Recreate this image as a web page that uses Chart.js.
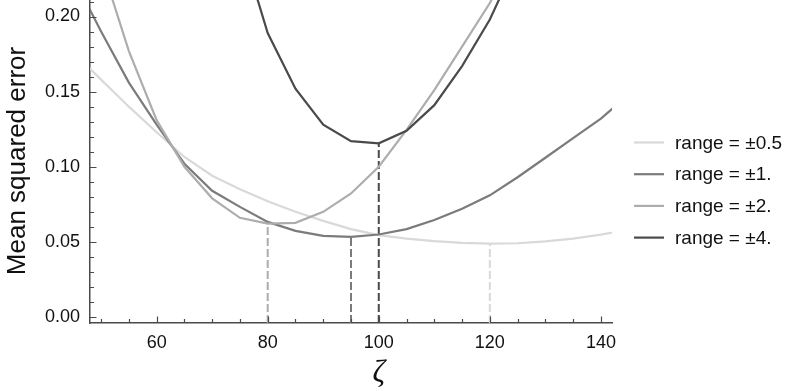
<!DOCTYPE html>
<html>
<head>
<meta charset="utf-8">
<script src="https://cdn.jsdelivr.net/npm/chart.js@4"></script>
<style>
  html, body { margin: 0; padding: 0; background: #ffffff; }
  #wrap { width: 786px; height: 391px; }
</style>
</head>
<body>
<div id="wrap"><canvas id="c" width="786" height="391"></canvas></div>
<script>
// ---------------- data ----------------
const zeta = [45, 50, 55, 60, 65, 70, 75, 80, 85, 90, 95, 100, 105, 110, 115, 120, 125, 130, 135, 140, 145];

const seriesLabels = ["range = \u00b10.5", "range = \u00b11.", "range = \u00b12.", "range = \u00b14."];
const seriesColors = ["#d9d9d9", "#7b7b7b", "#adadad", "#4a4a4a"];

const mseRange05 = [0.176, 0.158, 0.140, 0.123, 0.1065, 0.094, 0.085, 0.077, 0.070, 0.064, 0.0585, 0.0545, 0.0522, 0.0505, 0.0493, 0.0488, 0.0491, 0.0503, 0.0522, 0.0548, 0.058];
const mseRange1  = [0.226, 0.190, 0.156, 0.128, 0.102, 0.084, 0.0733, 0.0633, 0.0573, 0.054, 0.0533, 0.0549, 0.0585, 0.0645, 0.072, 0.081, 0.093, 0.106, 0.119, 0.132, 0.148];
const mseRange2  = [null, 0.235, 0.177, 0.131, 0.100, 0.079, 0.066, 0.0622, 0.0627, 0.070, 0.0822, 0.100, 0.1245, 0.151, 0.180, 0.209, 0.245, null, null, null, null];
const mseRange4  = [null, null, null, null, null, null, 0.250, 0.189, 0.152, 0.128, 0.117, 0.1156, 0.124, 0.141, 0.167, 0.198, 0.238, null, null, null, null];

const seriesValues = [mseRange05, mseRange1, mseRange2, mseRange4];

const xTicks = [60, 80, 100, 120, 140];
const yTicks = [0.00, 0.05, 0.10, 0.15, 0.20];
const xMinorStep = 5;
const yMinorStep = 0.01;
const xMin = 48, xMax = 142;
const yMin = -0.004, yMax = 0.211;

const xTitle = "\u03b6";
const yTitle = "Mean squared error";

// ---------------- helpers ----------------
const AXIS_COLOR = "#4a4a4a";
const TEXT_COLOR = "#111111";
const FONT = "'Liberation Sans', Arial, Helvetica, sans-serif";

function argminIndex(arr) {
  let best = -1;
  for (let i = 0; i < arr.length; i++) {
    if (arr[i] === null) continue;
    if (best < 0 || arr[i] < arr[best]) best = i;
  }
  return best;
}

const datasets = [];
// minima dashed markers (from data)
seriesValues.forEach((vals, s) => {
  const k = argminIndex(vals);
  datasets.push({
    label: "min " + seriesLabels[s],
    data: [{ x: zeta[k], y: yMin }, { x: zeta[k], y: vals[k] }],
    borderColor: seriesColors[s],
    borderWidth: 2,
    borderDash: [8, 3],
    pointRadius: 0,
    fill: false,
    tension: 0,
    order: 10
  });
});
// curves
seriesValues.forEach((vals, s) => {
  datasets.push({
    label: seriesLabels[s],
    data: zeta.map((z, i) => ({ x: z, y: vals[i] })),
    borderColor: seriesColors[s],
    borderWidth: 2.2,
    pointRadius: 0,
    fill: false,
    tension: 0,
    spanGaps: false,
    order: 4 - s
  });
});

// inward ticks
const inwardTicks = {
  id: "inwardTicks",
  afterDraw(chart) {
    const { ctx, chartArea: a, scales: { x, y } } = chart;
    ctx.save();
    ctx.strokeStyle = AXIS_COLOR;
    ctx.lineWidth = 1.2;
    ctx.beginPath();
    const x0 = Math.ceil(xMin / xMinorStep);
    for (let k = x0; k * xMinorStep <= xMax; k++) {
      const v = k * xMinorStep;
      const major = xTicks.some(t => Math.abs(t - v) < 1e-9);
      const px = Math.round(x.getPixelForValue(v)) + 0.5;
      ctx.moveTo(px, a.bottom);
      ctx.lineTo(px, a.bottom - (major ? 6.5 : 4));
    }
    const y0 = Math.ceil(yMin / yMinorStep - 1e-9);
    for (let k = y0; k * yMinorStep <= yMax + 1e-9; k++) {
      const v = k * yMinorStep;
      const major = yTicks.some(t => Math.abs(t - v) < 1e-9);
      const py = Math.round(y.getPixelForValue(v)) + 0.5;
      ctx.moveTo(a.left, py);
      ctx.lineTo(a.left + (major ? 6.5 : 4), py);
    }
    ctx.stroke();
    ctx.restore();
  }
};

// titles + legend
const annotationsText = {
  id: "annotationsText",
  afterDraw(chart) {
    const { ctx, scales: { x } } = chart;
    ctx.save();
    // y title
    ctx.fillStyle = TEXT_COLOR;
    ctx.font = "26px " + FONT;
    ctx.translate(25, 161);
    ctx.rotate(-Math.PI / 2);
    ctx.textAlign = "center";
    ctx.textBaseline = "alphabetic";
    ctx.fillText(yTitle, 0, 0);
    ctx.restore();

    // x title
    ctx.save();
    ctx.fillStyle = TEXT_COLOR;
    ctx.font = "italic 31px 'Liberation Serif', 'Times New Roman', serif";
    ctx.textAlign = "center";
    ctx.textBaseline = "alphabetic";
    ctx.fillText(xTitle, x.getPixelForValue(100), 382);
    ctx.restore();

    // legend
    ctx.save();
    ctx.font = "19px " + FONT;
    ctx.textAlign = "left";
    ctx.textBaseline = "middle";
    seriesLabels.forEach((lab, i) => {
      const yy = 142.5 + i * 31.7;
      ctx.strokeStyle = seriesColors[i];
      ctx.lineWidth = 2.2;
      ctx.beginPath();
      ctx.moveTo(634, yy);
      ctx.lineTo(664, yy);
      ctx.stroke();
      ctx.fillStyle = TEXT_COLOR;
      ctx.fillText(lab, 675, yy + 1);
    });
    ctx.restore();
  }
};

new Chart(document.getElementById("c"), {
  type: "line",
  data: { datasets },
  options: {
    responsive: false,
    animation: false,
    events: [],
    layout: { padding: { left: 0, right: 174, top: 0, bottom: 0 } },
    plugins: { legend: { display: false }, tooltip: { enabled: false } },
    scales: {
      x: {
        type: "linear",
        min: xMin,
        max: xMax,
        grid: { display: false, drawTicks: false },
        border: { display: true, color: AXIS_COLOR, width: 1.5 },
        ticks: {
          color: TEXT_COLOR,
          font: { family: FONT, size: 18 },
          padding: 9,
          maxRotation: 0,
          callback: v => String(v)
        },
        afterBuildTicks: s => { s.ticks = xTicks.map(v => ({ value: v })); },
        afterFit: s => { s.height = 68; s.paddingLeft = 0; s.paddingRight = 0; }
      },
      y: {
        type: "linear",
        min: yMin,
        max: yMax,
        grid: { display: false, drawTicks: false },
        border: { display: true, color: AXIS_COLOR, width: 1.5 },
        ticks: {
          color: TEXT_COLOR,
          font: { family: FONT, size: 18 },
          padding: 10,
          callback: v => v.toFixed(2)
        },
        afterBuildTicks: s => { s.ticks = yTicks.map(v => ({ value: v })); },
        afterFit: s => { s.width = 90; s.paddingTop = 0; s.paddingBottom = 0; }
      }
    }
  },
  plugins: [inwardTicks, annotationsText]
});
</script>
</body>
</html>
